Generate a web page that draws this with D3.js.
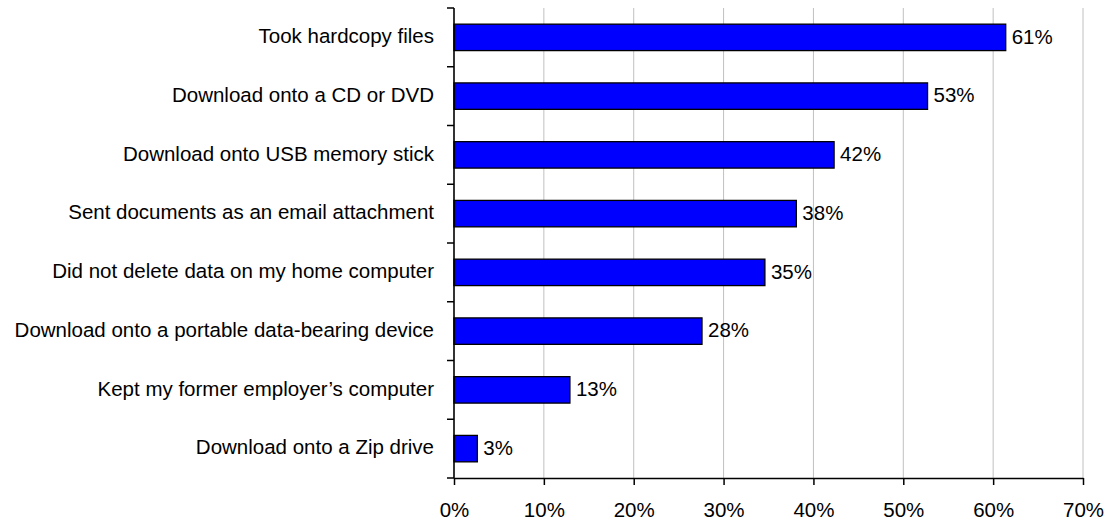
<!DOCTYPE html>
<html>
<head>
<meta charset="utf-8">
<script src="https://cdn.jsdelivr.net/npm/d3@7"></script>
<style>
  html, body { margin: 0; padding: 0; background: #fff; }
  svg { display: block; font-family: "Liberation Sans", Arial, sans-serif; }
</style>
</head>
<body>
<svg id="chart" width="1109" height="522"></svg>
<script>
// Survey categories (top to bottom) and share of respondents (%)
const categories = [
  "Took hardcopy files",
  "Download onto a CD or DVD",
  "Download onto USB memory stick",
  "Sent documents as an email attachment",
  "Did not delete data on my home computer",
  "Download onto a portable data-bearing device",
  "Kept my former employer\u2019s computer",
  "Download onto a Zip drive"
];
const values = [61.4, 52.7, 42.3, 38.1, 34.6, 27.6, 12.9, 2.6];
const xTicks = [0, 10, 20, 30, 40, 50, 60, 70];

const FONT = 20.5;
const margin = { top: 8, right: 26, bottom: 44, left: 454 };
const svg = d3.select("#chart");
const W = +svg.attr("width"), H = +svg.attr("height");
const iw = W - margin.left - margin.right;
const ih = H - margin.top - margin.bottom;

const g = svg.append("g").attr("transform", `translate(${margin.left},${margin.top})`);

const x = d3.scaleLinear().domain([0, 70]).range([0, iw]);
const y = d3.scaleBand().domain(categories).range([0, ih]).paddingInner(0.55).paddingOuter(0.275);

// vertical gridlines
g.append("g")
  .selectAll("line")
  .data(xTicks.filter(t => t > 0))
  .join("line")
  .attr("x1", d => x(d)).attr("x2", d => x(d))
  .attr("y1", 0).attr("y2", ih)
  .attr("stroke", "#c0c0c0")
  .attr("stroke-width", 1);

// bars
g.append("g")
  .selectAll("rect")
  .data(values)
  .join("rect")
  .attr("x", 0)
  .attr("y", (d, i) => y(categories[i]))
  .attr("width", d => x(d))
  .attr("height", y.bandwidth())
  .attr("fill", "#0000ff")
  .attr("stroke", "#000")
  .attr("stroke-width", 1.3);

// value labels
g.append("g")
  .selectAll("text")
  .data(values)
  .join("text")
  .attr("x", d => x(d) + 6)
  .attr("y", (d, i) => y(categories[i]) + y.bandwidth() / 2)
  .attr("dy", "0.3em")
  .attr("font-size", FONT)
  .attr("fill", "#000")
  .text(d => d3.format(".0f")(d) + "%");

// x axis
const xAxis = g.append("g")
  .attr("transform", `translate(0,${ih})`)
  .call(d3.axisBottom(x).tickValues(xTicks).tickSize(7).tickSizeOuter(0).tickFormat(d => d + "%"));
xAxis.select(".domain").attr("stroke", "#000").attr("stroke-width", 1.6);
xAxis.selectAll(".tick line").attr("stroke", "#000").attr("stroke-width", 1.5);
xAxis.selectAll(".tick text")
  .attr("font-family", "Liberation Sans, Arial, sans-serif")
  .attr("font-size", FONT)
  .attr("fill", "#000")
  .attr("y", 39)
  .attr("dy", "0");

// y axis: ticks sit between categories
const boundaries = d3.range(categories.length + 1).map(i => i * ih / categories.length);
const yAxis = g.append("g");
yAxis.append("line")
  .attr("x1", 0).attr("x2", 0).attr("y1", 0).attr("y2", ih)
  .attr("stroke", "#000").attr("stroke-width", 1.6);
yAxis.selectAll("line.tk")
  .data(boundaries)
  .join("line")
  .attr("class", "tk")
  .attr("x1", -7).attr("x2", 0)
  .attr("y1", d => d).attr("y2", d => d)
  .attr("stroke", "#000").attr("stroke-width", 1.5);
yAxis.selectAll("text")
  .data(categories)
  .join("text")
  .attr("x", -20)
  .attr("y", d => y(d) + y.bandwidth() / 2)
  .attr("dy", "0.28em")
  .attr("text-anchor", "end")
  .attr("font-size", FONT)
  .attr("fill", "#000")
  .text(d => d);
</script>
</body>
</html>
